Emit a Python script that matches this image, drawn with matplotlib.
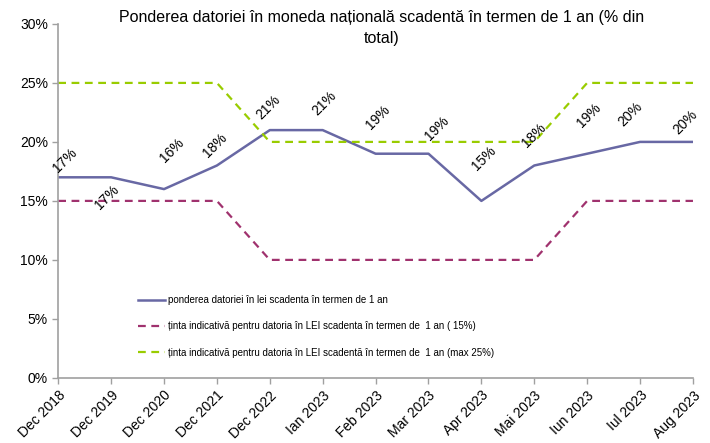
import matplotlib
matplotlib.use("Agg")
import matplotlib.pyplot as plt

plt.rcParams['font.family'] = ['Liberation Sans', 'DejaVu Sans']

categories = ["Dec 2018", "Dec 2019", "Dec 2020", "Dec 2021", "Dec 2022", "Ian 2023",
              "Feb 2023", "Mar 2023", "Apr 2023", "Mai 2023", "Iun 2023", "Iul 2023", "Aug 2023"]
actual = [17, 17, 16, 18, 21, 21, 19, 19, 15, 18, 19, 20, 20]
target_15 = [15, 15, 15, 15, 10, 10, 10, 10, 10, 10, 15, 15, 15]
target_25 = [25, 25, 25, 25, 20, 20, 20, 20, 20, 20, 25, 25, 25]
yticks = [0, 5, 10, 15, 20, 25, 30]

label_offsets = [(7, 17), (-4, -20), (8, 39), (-2, 20), (-2, 23), (2, 27), (2, 36),
                 (8, 25), (3, 43), (0, 30), (2, 38), (-10, 28), (-8, 20)]

fig = plt.figure(figsize=(7.10, 4.43), dpi=100)
ax = fig.add_axes([0.082, 0.147, 0.894, 0.799])

x = list(range(len(categories)))
ax.plot(x, actual, color='#6868A4', lw=1.8, label='ponderea datoriei în lei scadenta în termen de 1 an')
ax.plot(x, target_15, color='#A0326E', lw=1.6, ls=(0, (3.5, 2.5)),
        label='ținta indicativă pentru datoria în LEI scadenta în termen de  1 an ( 15%)')
ax.plot(x, target_25, color='#99CC00', lw=1.6, ls=(0, (3.5, 2.5)),
        label='ținta indicativă pentru datoria în LEI scadentă în termen de  1 an (max 25%)')

for xi, v, (dx, dy) in zip(x, actual, label_offsets):
    ax.annotate(f"{v}%", (xi, v), xytext=(dx, dy), textcoords='offset pixels',
                rotation=45, ha='center', va='center', rotation_mode='anchor', fontsize=10)

ax.set_xlim(0, len(categories) - 1)
ax.set_ylim(0, 30)
ax.set_yticks(yticks)
ax.set_yticklabels([f"{t}%" for t in yticks], fontsize=10)
ax.set_xticks(x)
ax.set_xticklabels(categories, rotation=45, ha='right', rotation_mode='anchor', fontsize=10)
ax.tick_params(axis='both', colors='#A0A0A0', labelcolor='black', length=4, width=1)
for s in ['top', 'right']:
    ax.spines[s].set_visible(False)
for s in ['left', 'bottom']:
    ax.spines[s].set_color('#A0A0A0')
    ax.spines[s].set_linewidth(1.2)

leg = ax.legend(loc='upper left', bbox_to_anchor=(0.12, 0.245), frameon=False, fontsize=7,
                handlelength=2.7, handletextpad=0.4, labelspacing=1.68, borderaxespad=0)

fig.text(0.537, 0.937, "Ponderea datoriei în moneda națională scadentă în termen de 1 an (% din\ntotal)",
         ha='center', va='center', fontsize=11.5, linespacing=1.45)

fig.savefig("out.png", dpi=100)
